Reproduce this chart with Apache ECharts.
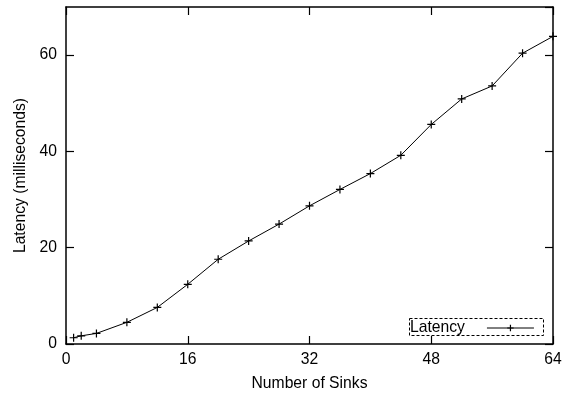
<!DOCTYPE html>
<html>
<head>
<meta charset="utf-8">
<script src="https://cdn.jsdelivr.net/npm/echarts@6/dist/echarts.min.js"></script>
<style>
  html, body { margin: 0; padding: 0; background: #fff; }
  #chart { width: 565px; height: 398px; }
</style>
</head>
<body>
<div id="chart"></div>
<script>
// Number of sinks vs. measured latency
const sinks = [1, 2, 4, 8, 12, 16, 20, 24, 28, 32, 36, 40, 44, 48, 52, 56, 60, 64];
const latencyMs = [1.3, 1.7, 2.2, 4.5, 7.6, 12.4, 17.6, 21.4, 24.9, 28.7, 32.1, 35.4, 39.2, 45.6, 50.9, 53.6, 60.4, 63.9];
const seriesName = 'Latency';
const xTitle = 'Number of Sinks';
const yTitle = 'Latency (milliseconds)';

const FONT = '"Liberation Sans", Arial, sans-serif';
const FS = 15.7;
const plus = 'path://M0,5L10,5M5,0L5,10';

const chart = echarts.init(document.getElementById('chart'), null, { renderer: 'canvas' });

function axisBase() {
  return {
    type: 'value',
    axisLine: { show: true, onZero: false, lineStyle: { color: '#000', width: 1.5 } },
    axisTick: { show: true, inside: true, length: 8, lineStyle: { color: '#000', width: 1.2 } },
    splitLine: { show: false }
  };
}

chart.setOption({
  animation: false,
  backgroundColor: '#fff',
  grid: { left: 66, right: 12, top: 7, bottom: 54, containLabel: false },
  xAxis: [
    Object.assign(axisBase(), {
      position: 'bottom', min: 0, max: 64, interval: 16,
      name: xTitle, nameLocation: 'middle', nameGap: 32,
      nameTextStyle: { color: '#000', fontFamily: FONT, fontSize: FS },
      axisLabel: { color: '#000', fontFamily: FONT, fontSize: FS, margin: 8 }
    }),
    Object.assign(axisBase(), {
      position: 'top', min: 0, max: 64, interval: 16,
      axisLabel: { show: false }
    })
  ],
  yAxis: [
    Object.assign(axisBase(), {
      position: 'left', min: 0, max: 70, interval: 20,
      name: yTitle, nameLocation: 'middle', nameGap: 36, nameRotate: 90,
      nameTextStyle: { color: '#000', fontFamily: FONT, fontSize: FS },
      axisLabel: { color: '#000', fontFamily: FONT, fontSize: FS, margin: 9, showMaxLabel: false }
    }),
    Object.assign(axisBase(), {
      position: 'right', min: 0, max: 70, interval: 20,
      axisLabel: { show: false }
    })
  ],
  legend: {
    show: true,
    data: [seriesName],
    left: 410, top: 320,
    align: 'right',
    orient: 'horizontal',
    padding: 0,
    itemWidth: 47, itemHeight: 8,
    lineStyle: { width: 1, color: '#000' },
    itemStyle: { color: 'none', borderColor: '#000', borderWidth: 1.2 },
    textStyle: { color: '#000', fontFamily: FONT, fontSize: FS, padding: [0, 17, 0, 0] }
  },
  graphic: [{
    type: 'rect',
    shape: { x: 409.5, y: 318.5, width: 134, height: 17 },
    style: { fill: 'none', stroke: '#000', lineWidth: 1, lineDash: [3, 2] },
    z: 10
  }],
  series: [{
    name: seriesName,
    type: 'line',
    xAxisIndex: 0, yAxisIndex: 0,
    data: sinks.map((s, i) => [s, latencyMs[i]]),
    symbol: plus,
    symbolSize: 8,
    showAllSymbol: true,
    lineStyle: { color: '#000', width: 1 },
    itemStyle: { color: 'none', borderColor: '#000', borderWidth: 1.2 },
    clip: false
  }]
});
</script>
</body>
</html>
